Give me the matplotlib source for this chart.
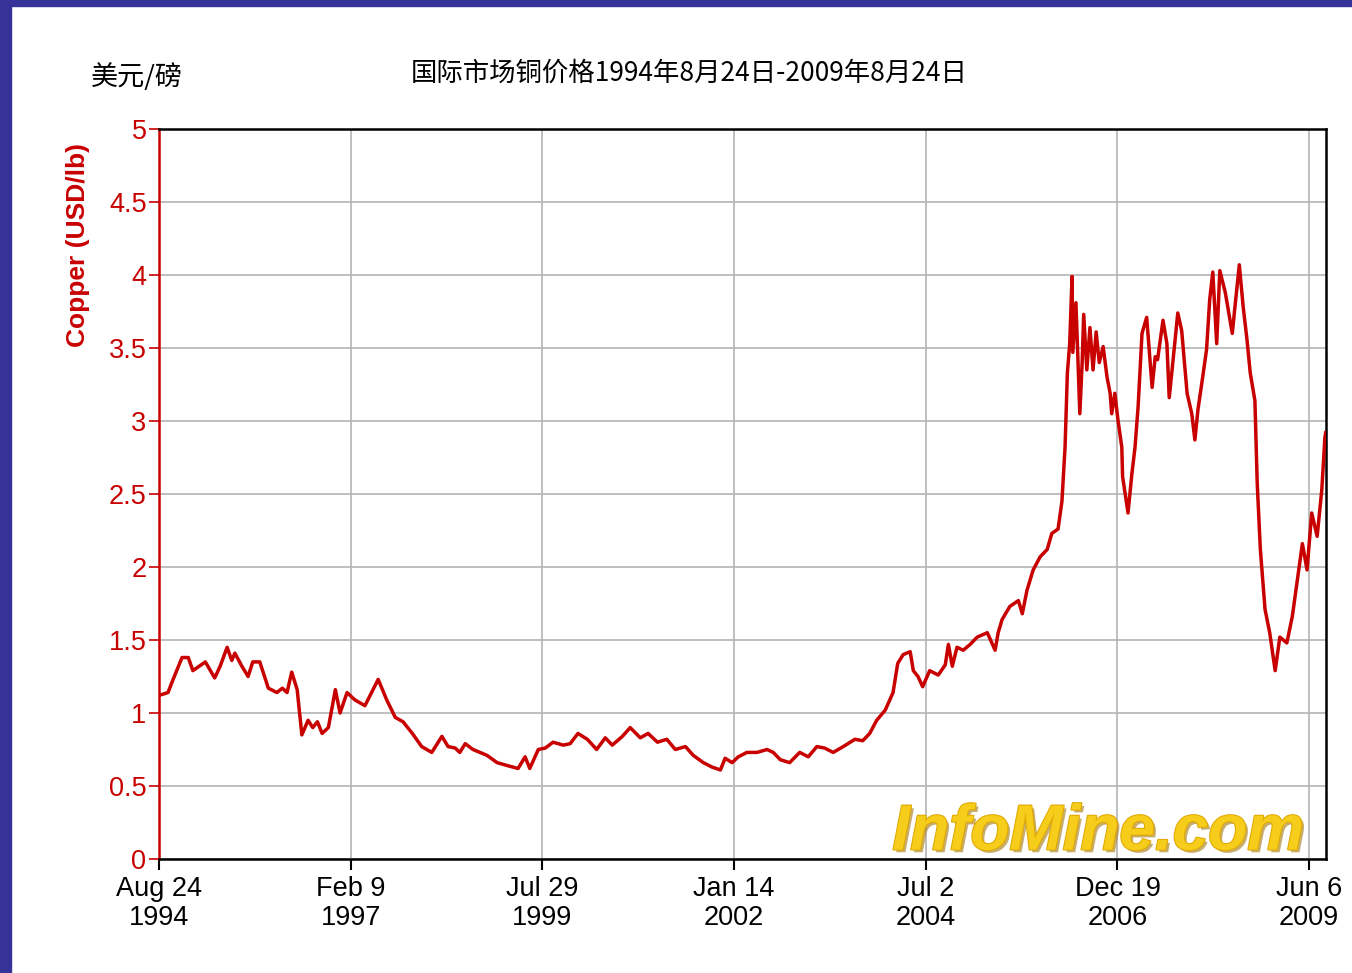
import matplotlib
matplotlib.use("Agg")
import matplotlib.pyplot as plt
import matplotlib.patheffects as pe
from matplotlib.patches import Rectangle
import pandas as pd

# copper price, decimal year -> USD/lb
years = [
    1994.64, 1994.76, 1994.81, 1994.94, 1995.02, 1995.08, 1995.24, 1995.36, 1995.43, 1995.52,
    1995.58, 1995.62, 1995.71, 1995.79, 1995.85, 1995.94, 1996.05, 1996.16, 1996.23, 1996.29,
    1996.35, 1996.42, 1996.48, 1996.56, 1996.62, 1996.68, 1996.74, 1996.82, 1996.91, 1996.97,
    1997.06, 1997.16, 1997.29, 1997.46, 1997.57, 1997.68, 1997.78, 1997.90, 1998.02, 1998.15,
    1998.28, 1998.36, 1998.45, 1998.51, 1998.58, 1998.68, 1998.86, 1998.99, 1999.12, 1999.26,
    1999.35, 1999.41, 1999.52, 1999.61, 1999.71, 1999.84, 1999.93, 2000.03, 2000.15, 2000.27,
    2000.38, 2000.47, 2000.60, 2000.70, 2000.83, 2000.93, 2001.05, 2001.17, 2001.28, 2001.41,
    2001.51, 2001.64, 2001.75, 2001.86, 2001.92, 2002.01, 2002.09, 2002.20, 2002.33, 2002.46,
    2002.54, 2002.63, 2002.75, 2002.88, 2002.99, 2003.10, 2003.20, 2003.31, 2003.44, 2003.59,
    2003.69, 2003.78, 2003.87, 2003.98, 2004.08, 2004.14, 2004.21, 2004.30, 2004.34, 2004.40,
    2004.46, 2004.55, 2004.66, 2004.75, 2004.79, 2004.84, 2004.90, 2004.98, 2005.07, 2005.16,
    2005.29, 2005.39, 2005.43, 2005.48, 2005.58, 2005.69, 2005.74, 2005.80, 2005.88, 2005.97,
    2006.06, 2006.12, 2006.20, 2006.25, 2006.29, 2006.32, 2006.35, 2006.38, 2006.39, 2006.43,
    2006.46, 2006.48, 2006.51, 2006.53, 2006.57, 2006.61, 2006.65, 2006.69, 2006.73, 2006.78,
    2006.83, 2006.87, 2006.89, 2006.93, 2006.97, 2007.02, 2007.03, 2007.10, 2007.15, 2007.19,
    2007.23, 2007.28, 2007.34, 2007.38, 2007.41, 2007.45, 2007.48, 2007.55, 2007.60, 2007.63,
    2007.68, 2007.74, 2007.79, 2007.86, 2007.92, 2007.96, 2008.00, 2008.06, 2008.11, 2008.15,
    2008.19, 2008.24, 2008.28, 2008.35, 2008.44, 2008.47, 2008.53, 2008.58, 2008.63, 2008.67,
    2008.73, 2008.76, 2008.80, 2008.86, 2008.92, 2008.99, 2009.05, 2009.14, 2009.21, 2009.27,
    2009.34, 2009.40, 2009.46, 2009.53, 2009.59, 2009.63, 2009.64,
]
prices = [
    1.12, 1.14, 1.21, 1.38, 1.38, 1.29, 1.35, 1.24, 1.32, 1.45,
    1.36, 1.41, 1.32, 1.25, 1.35, 1.35, 1.17, 1.14, 1.17, 1.14,
    1.28, 1.16, 0.85, 0.95, 0.90, 0.94, 0.86, 0.90, 1.16, 1.00,
    1.14, 1.09, 1.05, 1.23, 1.09, 0.97, 0.94, 0.86, 0.77, 0.73,
    0.84, 0.77, 0.76, 0.73, 0.79, 0.75, 0.71, 0.66, 0.64, 0.62,
    0.70, 0.62, 0.75, 0.76, 0.80, 0.78, 0.79, 0.86, 0.82, 0.75,
    0.83, 0.78, 0.84, 0.90, 0.83, 0.86, 0.80, 0.82, 0.75, 0.77,
    0.71, 0.66, 0.63, 0.61, 0.69, 0.66, 0.70, 0.73, 0.73, 0.75,
    0.73, 0.68, 0.66, 0.73, 0.70, 0.77, 0.76, 0.73, 0.77, 0.82,
    0.81, 0.86, 0.95, 1.02, 1.14, 1.34, 1.40, 1.42, 1.29, 1.25,
    1.18, 1.29, 1.26, 1.33, 1.47, 1.32, 1.45, 1.43, 1.47, 1.52,
    1.55, 1.43, 1.55, 1.64, 1.73, 1.77, 1.68, 1.84, 1.98, 2.07,
    2.12, 2.23, 2.26, 2.45, 2.82, 3.33, 3.53, 3.99, 3.47, 3.81,
    3.35, 3.05, 3.40, 3.73, 3.35, 3.64, 3.35, 3.61, 3.40, 3.51,
    3.30, 3.19, 3.05, 3.19, 3.01, 2.82, 2.62, 2.37, 2.64, 2.82,
    3.10, 3.60, 3.71, 3.44, 3.23, 3.44, 3.42, 3.69, 3.53, 3.16,
    3.42, 3.74, 3.62, 3.19, 3.05, 2.87, 3.08, 3.30, 3.49, 3.83,
    4.02, 3.53, 4.03, 3.88, 3.60, 3.76, 4.07, 3.78, 3.55, 3.33,
    3.14, 2.57, 2.12, 1.71, 1.55, 1.29, 1.52, 1.48, 1.66, 1.89,
    2.16, 1.98, 2.37, 2.21, 2.53, 2.89, 2.92,
]

tick_dates = ["1994-08-24", "1997-02-09", "1999-07-29", "2002-01-14",
              "2004-07-02", "2006-12-19", "2009-06-06"]
tick_labels = ["Aug 24\n1994", "Feb 9\n1997", "Jul 29\n1999", "Jan 14\n2002",
               "Jul 2\n2004", "Dec 19\n2006", "Jun 6\n2009"]
y_ticks = [0, 0.5, 1, 1.5, 2, 2.5, 3, 3.5, 4, 4.5, 5]
y_labels = ["0", "0.5", "1", "1.5", "2", "2.5", "3", "3.5", "4", "4.5", "5"]


def to_date(y):
    yr = int(y)
    start = pd.Timestamp(yr, 1, 1)
    span = (pd.Timestamp(yr + 1, 1, 1) - start).days
    return start + pd.Timedelta(days=(y - yr) * span)


dates = [to_date(y) for y in years]

plt.rcParams['font.family'] = ['Liberation Sans', 'DejaVu Sans']
red = '#c80000'

fig = plt.figure(figsize=(13.52, 9.73), dpi=100, facecolor='white')
ax = fig.add_axes([159 / 1352, 1 - 859 / 973, (1326 - 159) / 1352, (859 - 129) / 973])

ax.plot(dates, prices, color=red, lw=2.5, zorder=3)

ax.set_xlim(pd.Timestamp("1994-08-24"), pd.Timestamp("2009-08-24"))
ax.set_ylim(0, 5)
ax.set_xticks([pd.Timestamp(d) for d in tick_dates])
ax.set_xticklabels(tick_labels, fontsize=19.5, linespacing=1.15)
ax.set_yticks(y_ticks)
ax.set_yticklabels(y_labels, fontsize=19.5, color=red)
ax.grid(True, color='#b4b4b4', lw=1.2, zorder=0)
ax.tick_params(axis='x', length=8, width=1.5, colors='black', pad=4)
ax.tick_params(axis='y', length=7, width=1.2, colors=red, labelcolor=red, pad=2)
for s in ['top', 'right', 'bottom']:
    ax.spines[s].set_color('black')
    ax.spines[s].set_linewidth(1.8)
ax.spines['left'].set_color(red)
ax.spines['left'].set_linewidth(1.8)

fig.text(78 / 1352, 1 - 245 / 973, 'Copper (USD/lb)', rotation=90, color=red,
         fontsize=19, fontweight='bold', ha='center', va='center')

cjk = ['Noto Sans CJK SC', 'DejaVu Sans']
fig.text(689 / 1352, 1 - 73 / 973, '国际市场铜价格1994年8月24日-2009年8月24日',
         family=cjk, fontsize=19, ha='center', va='center')
fig.text(137 / 1352, 1 - 77 / 973, '美元/磅', family=cjk, fontsize=19.5,
         ha='center', va='center')

ax.text(0.981, 0.013, 'InfoMine.com', transform=ax.transAxes, ha='right', va='baseline',
        fontsize=46, fontweight='bold', style='italic', color='#f7cd1c', zorder=2,
        path_effects=[pe.withSimplePatchShadow(offset=(2, -2), shadow_rgbFace='#b08a30', alpha=0.7),
                      pe.Stroke(linewidth=1.5, foreground='#e0a800'), pe.Normal()])

# blue frame on the top and left edges
fig.patches.append(Rectangle((0, 1 - 6 / 973), 1, 6 / 973, transform=fig.transFigure,
                             color='#353399', zorder=10))
fig.patches.append(Rectangle((0, 0), 11 / 1352, 1, transform=fig.transFigure,
                             color='#353399', zorder=10))

fig.savefig('out.png', dpi=100, facecolor='white')
